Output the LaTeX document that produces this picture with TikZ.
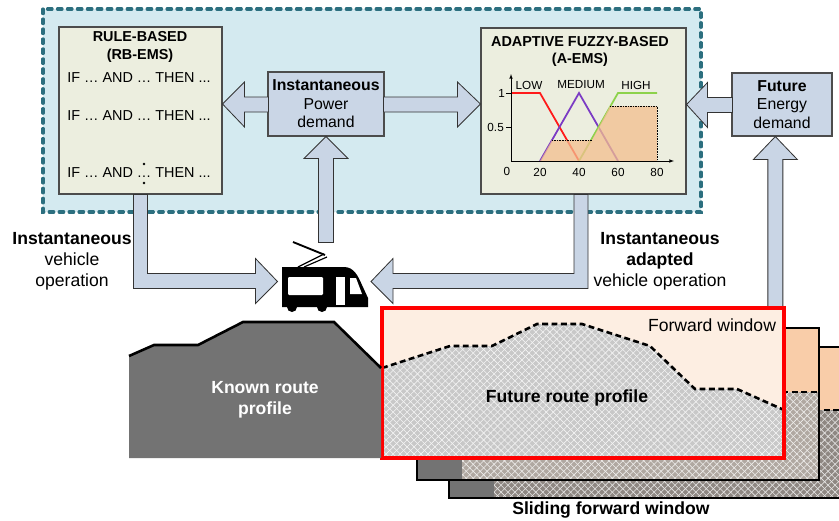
\documentclass[tikz,border=0pt]{standalone}
\usepackage{fontspec}
\setmainfont{Liberation Sans}
\usetikzlibrary{patterns.meta}

\definecolor{panelblue}{HTML}{D4EAF0}
\definecolor{paneledge}{HTML}{2C6F7F}
\definecolor{rulefill}{HTML}{ECEEDF}
\definecolor{demandblue}{HTML}{CAD6E6}
\definecolor{arrowblue}{HTML}{C9D5E5}
\definecolor{setorange}{HTML}{F3BE8E}
\definecolor{winpeach}{HTML}{F9CDA9}
\definecolor{winlight}{HTML}{FDEEE2}
\definecolor{groundgray}{HTML}{737373}
\definecolor{hatchgray}{HTML}{C8C8C8}
\definecolor{slidemid}{HTML}{B0A8A1}
\definecolor{slidedark}{HTML}{8E8782}
\definecolor{lowred}{HTML}{FF1A1A}
\definecolor{medpurple}{HTML}{7B3BC4}
\definecolor{highgreen}{HTML}{8DD24B}

\tikzset{
	ems/.style={draw=black!70, line width=0.9pt, align=center, inner sep=0pt},
	blockarrow/.style={draw=black!80, fill=arrowblue, line width=0.7pt},
	caption/.style={font=\fontsize{15}{18}\selectfont, align=center, inner sep=0pt},
	boxtext/.style={font=\fontsize{13.5}{15.8}\selectfont},
	ruletext/.style={font=\fontsize{12.3}{15}\selectfont, align=center, inner sep=0pt},
	tick/.style={font=\fontsize{10}{12}\selectfont, inner sep=0pt},
	meshfill/.style={fill=#1,
		postaction={pattern={Lines[angle=45, distance=4.2pt, line width=0.5pt]}, pattern color=white!80!#1},
		postaction={pattern={Lines[angle=-45, distance=4.2pt, line width=0.5pt]}, pattern color=white!80!#1}},
	profile/.style={line width=2.2pt, dash pattern=on 5pt off 3pt},
}

\begin{document}
\begin{tikzpicture}[x=0.03cm, y=-0.03cm]
		\path[use as bounding box, clip] (0,0) rectangle (839,520);
		% energy management panel
		\filldraw[fill=panelblue, draw=paneledge, line width=2.6pt, line cap=round, dash pattern=on 4pt off 4.5pt] (43,9) rectangle (701,212);
		\node[ems, fill=rulefill, minimum width=4.89cm, minimum height=5.01cm] (rb) at (140.5,110.5) {};
		\node[ems, fill=demandblue, minimum width=3.48cm, minimum height=1.92cm, boxtext] (pd) at (326,104) {\textbf{Instantaneous}\\Power\\demand};
		\node[ems, fill=rulefill, minimum width=6.15cm, minimum height=4.98cm] (fz) at (583.5,111) {};
		\node[ems, fill=demandblue, minimum width=3.0cm, minimum height=1.89cm, boxtext] (ed) at (782,104.5) {\textbf{Future}\\Energy\\demand};

		% block arrows
		\filldraw[blockarrow] (rb.east |- pd.west) -- ++(22,-22) -- ++(0,15) -- ++(24,0) -- ++(0,15) -- ++(-24,0) -- ++(0,15) -- cycle;
		\filldraw[blockarrow] (fz.west |- pd.east) -- ++(-23,-22) -- ++(0,15) -- ++(-74,0) -- ++(0,15) -- ++(74,0) -- ++(0,15) -- cycle;
		\filldraw[blockarrow] (fz.east |- ed.west) -- ++(21,-22) -- ++(0,15) -- ++(25,0) -- ++(0,15) -- ++(-25,0) -- ++(0,15) -- cycle;
		\filldraw[blockarrow] (pd.south) -- ++(-22,22) -- ++(14.5,0) -- ++(0,84) -- ++(15,0) -- ++(0,-84) -- ++(14.5,0) -- cycle;
		\filldraw[blockarrow] ([xshift=-0.2cm]ed.south) -- ++(-22,23) -- ++(14.5,0) -- ++(0,190) -- ++(15,0) -- ++(0,-190) -- ++(14.5,0) -- cycle;
		\filldraw[blockarrow] (rb.south) ++(-7,0) -- ++(14,0) -- ++(0,79) -- ++(108,0) -- ++(0,-15) -- ++(22,23) -- ++(-22,22) -- ++(0,-15) -- ++(-122,0) -- cycle;
		\filldraw[blockarrow] (fz.south) ++(-9.5,0) -- ++(14,0) -- ++(0,94) -- ++(-195,0) -- ++(0,15) -- ++(-22,-22) -- ++(22,-23) -- ++(0,15) -- ++(181,0) -- cycle;

		% rule base
		\node[ruletext] (rbtitle) at (140,47) {\textbf{RULE-BASED}\\\textbf{(RB-EMS)}};
		\foreach \y/\n in {78/a, 116/b, 173/c} {
			\node[ruletext] (rule\n) at (139,\y) {IF … AND … THEN ...};
		};
		\fill (144,164) circle[radius=0.04cm] (144,183) circle[radius=0.04cm];

		% fuzzy sets
		\node[ruletext, font=\fontsize{12.3}{14.5}\selectfont] (fztitle) at (580,51.5) {\textbf{ADAPTIVE FUZZY-BASED}\\\textbf{(A-EMS)}};
		\draw[lowred, line width=1.5pt] (511,93) -- (540,93) -- (579,161);
		\draw[medpurple, line width=1.5pt] (540,161) -- (579,93) -- (618,161);
		\draw[highgreen, line width=1.5pt] (579,161) -- (618,93) -- (657,93);
		\fill[setorange, opacity=0.75] (540,161) -- (552,140) -- (592,140) -- (610,106) -- (657,106) -- (657,161) -- cycle;
		\draw[densely dotted, thin] (552,140) -- (592,140) (610,106) -- (657,106) -- (657,161);
		\draw[-latex] (511,161) -- (674,161);
		\draw[-latex] (511,161) -- (511,74);
		\draw (506,93) -- (511,93) (506,127) -- (511,127);
		\node[tick, anchor=east] (one) at (505,93) {1};
		\node[tick, anchor=east] (half) at (504,127) {0.5};
		\node[tick] (zero) at (507,171) {0};
		\foreach \v/\x in {20/540, 40/579, 60/618, 80/657} {
			\node[tick] (x\v) at (\x,172) {\v};
		};
		\node[tick] (low) at (529,85) {LOW};
		\node[tick] (medium) at (581,85) {MEDIUM};
		\node[tick] (high) at (636,85) {HIGH};

		% sliding windows, back to front
		\foreach \l/\t/\r/\b/\g/\c in {449/347/845/498/410/slidedark, 417/328/819/480/392/slidemid} {
			\fill[winpeach] (\l,\t) rectangle (\r,\b);
			\path[meshfill=\c] (\l,\g) rectangle (\r,\b);
			\fill[groundgray] (\l,\b-38) rectangle (\l+45,\b);
			\draw[profile] (\l,\g) -- (\r,\g);
			\draw[line width=1.2pt] (\l,\t) rectangle (\r,\b);
		};
		\fill[winlight] (382,308) rectangle (784,458);
		\path[meshfill=hatchgray] (382,368) -- (450,346) -- (492,346) -- (537,324) -- (582,324) -- (650,346) -- (695,389) -- (737,389) -- (784,410) -- (784,458) -- (382,458) -- cycle;
		\draw[profile] (382,368) -- (450,346) -- (492,346) -- (537,324) -- (582,324) -- (650,346) -- (695,389) -- (737,389) -- (784,410);
		\draw[red, line width=2.6pt] (382,308) rectangle (784,458);

		% known part of the route
		\fill[groundgray] (129,356) -- (154,345) -- (198,345) -- (243,322) -- (334,322) -- (381,368) -- (381,458) -- (129,458) -- cycle;
		\draw[line width=2.2pt] (129,356) -- (154,345) -- (198,345) -- (243,322) -- (334,322) -- (381,368);

		% tram
		\coordinate (tram) at (325,287);
		\fill (282,307) -- (282,267) -- (344,267) .. controls (354,267) and (358,276) .. (362,285) -- (368,298) -- (368,307) -- cycle;
		\fill (292,307) circle[radius=0.15cm] (322,307) circle[radius=0.15cm];
		\fill[white, rounded corners=1pt] (288,277) rectangle (323,295);
		\fill[white] (336,277) rectangle (345,305);
		\fill[white] (350,278) -- (356,278) -- (362,294) -- (350,294) -- cycle;
		\draw[line width=1.6pt] (293,242) -- (325,255);
		\draw[line width=1pt] (324,254) -- (298,267) (327,257) -- (304,267);

		% captions
		\node[caption] (rblabel) at (72,261) {\textbf{Instantaneous}\\vehicle\\operation};
		\node[caption] (fzlabel) at (660,261) {\textbf{Instantaneous}\\\textbf{adapted}\\vehicle operation};
		\node[caption, white] (known) at (265,400) {\textbf{Known route}\\\textbf{profile}};
		\node[caption] (future) at (567,398) {\textbf{Future route profile}};
		\node[caption] (fwd) at (712,325) {Forward window};
		\node[caption] (sliding) at (611,510) {\textbf{Sliding forward window}};
	\end{tikzpicture}
\end{document}
